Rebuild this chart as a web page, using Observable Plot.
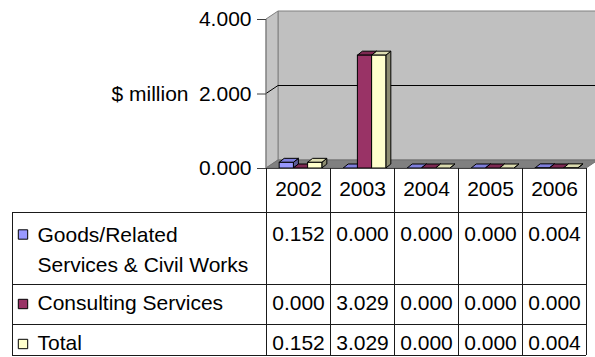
<!DOCTYPE html>
<html>
<head>
<meta charset="utf-8">
<script src="https://cdn.jsdelivr.net/npm/d3@7"></script>
<script src="https://cdn.jsdelivr.net/npm/@observablehq/plot@0.6"></script>
<style>
  html, body { margin: 0; padding: 0; background: #fff; }
  #chart svg { display: block; }
</style>
</head>
<body>
<div id="chart"></div>
<script>
// ---- data ----
const years = ["2002", "2003", "2004", "2005", "2006"];
const seriesNames = ["Goods/Related\nServices & Civil Works", "Consulting Services", "Total"];
const goodsValues = [0.152, 0.000, 0.000, 0.000, 0.004];
const consultingValues = [0.000, 3.029, 0.000, 0.000, 0.000];
const totalValues = [0.152, 3.029, 0.000, 0.000, 0.004];
const yTicks = [0, 2, 4];
const yLabel = "$ million";

// ---- styles / layout ----
const seriesValues = [goodsValues, consultingValues, totalValues];
const frontColors = ["#9999FF", "#993366", "#FFFFCC"];
const topColors = ["#8080DD", "#7D2952", "#DCDCB0"];
const sideColors = ["#5C5C99", "#5C1F3D", "#8C8C70"];
const W = 595, H = 357;
const ML = 266, MR = 9, MT = 19, MB = 189;
const DX = 12, DY = 8;      // wall depth
const BDX = 5, BDY = 4;     // bar depth
const FS = 21;
const bw = (W - ML - MR) / years.length;
const barW = bw / (3 + 1.5);
const clusterShift = 2.5;
const insetL = s => (bw - 3 * barW) / 2 + clusterShift + s * barW;
const insetR = s => bw - insetL(s) - barW;
const tableLeft = 12;
const tableLines = [44, 116, 156, 187];        // offsets below the floor edge
const valueBaselines = [72, 141, 181];
const labelBaselines = [103.7, 141, 181];
const keyCenters = [66, 135.5, 175.5];
const labelX = 37, keyX = 22.5;
const fmt = d3.format(".3f");

function walls(index, {x, y}, values, dims) {
  const g = d3.create("svg:g");
  const x0 = dims.marginLeft, x1 = dims.width - dims.marginRight;
  const yb = y(0), yt = y(yTicks[yTicks.length - 1]);
  g.append("path")
    .attr("d", `M${x0 + DX},${yt - DY}H${dims.width + 2}V${yb - DY}H${x0 + DX}Z`)
    .attr("fill", "#C0C0C0").attr("stroke", "#808080");
  g.append("path")
    .attr("d", `M${x0},${yt}L${x0 + DX},${yt - DY}V${yb - DY}L${x0},${yb}Z`)
    .attr("fill", "#C4C4C4").attr("stroke", "#808080");
  g.append("path")
    .attr("d", `M${x0},${yb}H${x1}L${x1 + DX},${yb - DY}H${x0 + DX}Z`)
    .attr("fill", "#808080").attr("stroke", "#707070");
  for (const t of yTicks) {
    if (t === 0 || t === yTicks[yTicks.length - 1]) continue;
    g.append("path")
      .attr("d", `M${x0},${y(t)}L${x0 + DX},${y(t) - DY}H${dims.width + 2}`)
      .attr("fill", "none").attr("stroke", "#000");
  }
  g.append("line").attr("x1", x0).attr("x2", x0).attr("y1", yt).attr("y2", yb)
    .attr("stroke", "#808080");
  return g.node();
}

function barFaces(s) {
  return (index, {x, y}) => {
    const g = d3.create("svg:g").attr("stroke", "#000").attr("stroke-width", 1)
      .attr("stroke-linejoin", "round");
    years.forEach((yr, i) => {
      const left = x(yr) + insetL(s), right = left + barW;
      const top = y(seriesValues[s][i]), base = y(0);
      g.append("path")
        .attr("d", `M${right},${base}L${right + BDX},${base - BDY}V${top - BDY}L${right},${top}Z`)
        .attr("fill", sideColors[s]);
      g.append("path")
        .attr("d", `M${left},${top}H${right}L${right + BDX},${top - BDY}H${left + BDX}Z`)
        .attr("fill", topColors[s]);
    });
    return g.node();
  };
}

function tableGrid(index, {x, y}, values, dims) {
  const g = d3.create("svg:g").attr("stroke", "#1a1a1a").attr("fill", "none")
    .attr("shape-rendering", "crispEdges");
  const base = y(0);
  const x0 = dims.marginLeft, x1 = dims.width - dims.marginRight;
  const bottom = base + tableLines[tableLines.length - 1];
  g.append("line").attr("x1", x0).attr("x2", x1).attr("y1", base).attr("y2", base).attr("stroke", "#404040");
  const edges = years.map(yr => x(yr)).concat([x(years[years.length - 1]) + bw]);
  for (const e of edges) {
    g.append("line").attr("x1", e).attr("x2", e).attr("y1", base).attr("y2", bottom);
  }
  for (const off of tableLines) {
    g.append("line").attr("x1", tableLeft).attr("x2", x1).attr("y1", base + off).attr("y2", base + off);
  }
  g.append("line").attr("x1", tableLeft).attr("x2", tableLeft).attr("y1", base + tableLines[0]).attr("y2", bottom);
  return g.node();
}

const marks = [walls];
seriesValues.forEach((vals, s) => {
  const data = years.map((year, i) => ({year, value: vals[i]}));
  marks.push(barFaces(s));
  marks.push(Plot.barY(data, {
    x: "year", y1: 0, y2: "value",
    fill: frontColors[s], stroke: "#000", strokeWidth: 1,
    insetLeft: insetL(s), insetRight: insetR(s)
  }));
});
marks.push(tableGrid);
marks.push(Plot.axisY({ticks: yTicks, tickFormat: fmt, tickSize: 9, tickPadding: 6, fontSize: FS, label: null, stroke: "#404040"}));
marks.push(Plot.axisX({tickSize: 0, tickPadding: 13, fontSize: FS, label: null}));
marks.push(Plot.text([yLabel], {text: d => d, y: () => yTicks[1], frameAnchor: "left", dx: -78, textAnchor: "end", fontSize: FS}));
seriesValues.forEach((vals, s) => {
  marks.push(Plot.text(years, {
    x: d => d, text: (d, i) => fmt(vals[i]),
    frameAnchor: "bottom", dy: valueBaselines[s], lineAnchor: "bottom", fontSize: FS
  }));
  marks.push(Plot.text([seriesNames[s]], {
    text: d => d, frameAnchor: "bottom-left", dx: labelX - ML, dy: labelBaselines[s],
    textAnchor: "start", lineAnchor: "bottom", lineHeight: 30.7 / FS, fontSize: FS
  }));
  marks.push(Plot.dot([seriesNames[s]], {
    frameAnchor: "bottom-left", dx: keyX - ML, dy: keyCenters[s],
    symbol: "square", r: 5.3, fill: frontColors[s], stroke: "#000", strokeWidth: 1
  }));
});

const chart = Plot.plot({
  width: W, height: H,
  marginLeft: ML, marginRight: MR, marginTop: MT, marginBottom: MB,
  style: {fontFamily: "'Liberation Sans', Arial, sans-serif", fontSize: FS + "px", color: "#000", background: "#fff"},
  x: {type: "band", domain: years, padding: 0, label: null, axis: null},
  y: {domain: [yTicks[0], yTicks[yTicks.length - 1]], label: null, axis: null},
  marks
});
document.getElementById("chart").append(chart);
</script>
</body>
</html>
